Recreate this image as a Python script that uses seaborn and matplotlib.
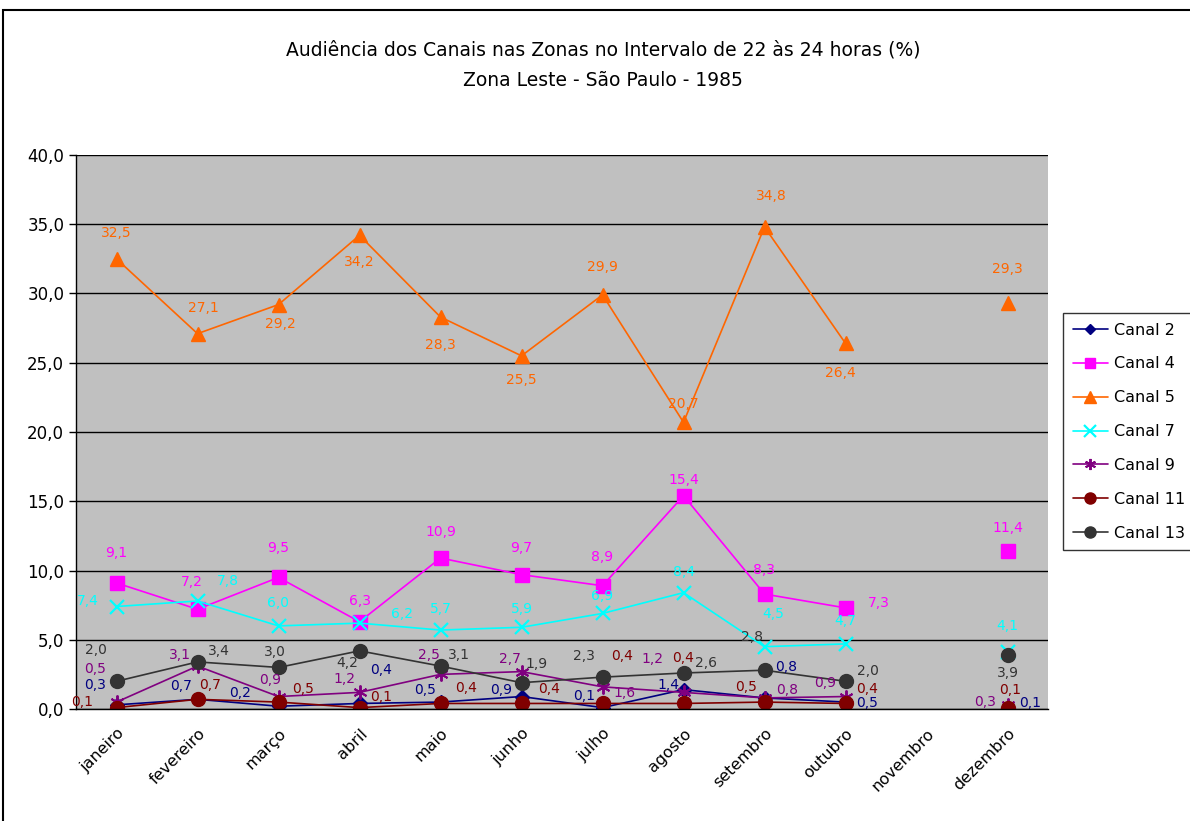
import numpy as np
import pandas as pd
import matplotlib
matplotlib.use("Agg")
import matplotlib.pyplot as plt
from matplotlib.lines import Line2D
from matplotlib.patches import Rectangle
from matplotlib.ticker import FuncFormatter, FixedLocator
import seaborn as sns

# ─────────────────────────────────────────────
# Data
# ─────────────────────────────────────────────
meses = ["janeiro", "fevereiro", "março", "abril", "maio", "junho",
         "julho", "agosto", "setembro", "outubro", "novembro", "dezembro"]

nan = np.nan
canal_2  = [0.3, 0.7, 0.2, 0.4, 0.5, 0.9, 0.1, 1.4, 0.8, 0.5, nan, 0.1]
canal_4  = [9.1, 7.2, 9.5, 6.3, 10.9, 9.7, 8.9, 15.4, 8.3, 7.3, nan, 11.4]
canal_5  = [32.5, 27.1, 29.2, 34.2, 28.3, 25.5, 29.9, 20.7, 34.8, 26.4, nan, 29.3]
canal_7  = [7.4, 7.8, 6.0, 6.2, 5.7, 5.9, 6.9, 8.4, 4.5, 4.7, nan, 4.1]
canal_9  = [0.5, 3.1, 0.9, 1.2, 2.5, 2.7, 1.6, 1.2, 0.8, 0.9, nan, 0.3]
canal_11 = [0.1, 0.7, 0.5, 0.1, 0.4, 0.4, 0.4, 0.4, 0.5, 0.4, nan, 0.1]
canal_13 = [2.0, 3.4, 3.0, 4.2, 3.1, 1.9, 2.3, 2.6, 2.8, 2.0, nan, 3.9]

series = {
    "Canal 2": canal_2, "Canal 4": canal_4, "Canal 5": canal_5,
    "Canal 7": canal_7, "Canal 9": canal_9, "Canal 11": canal_11,
    "Canal 13": canal_13,
}

# ─────────────────────────────────────────────
# Styles
# ─────────────────────────────────────────────
asterisk = (6, 2, 0)
estilos = {
    "Canal 2":  dict(color="#000080", marker="D", ms=7,   mew=1.0),
    "Canal 4":  dict(color="#FF00FF", marker="s", ms=9.5, mew=1.0),
    "Canal 5":  dict(color="#FF6600", marker="^", ms=10,  mew=1.0),
    "Canal 7":  dict(color="#00FFFF", marker="x", ms=10,  mew=1.6),
    "Canal 9":  dict(color="#800080", marker=asterisk, ms=10, mew=1.4),
    "Canal 11": dict(color="#800000", marker="o", ms=10,  mew=1.0),
    "Canal 13": dict(color="#333333", marker="o", ms=10,  mew=1.0),
}

# label offsets in pixels (dx, dy with dy downward), per month
offsets = {
    "Canal 2":  [(-21, -20), (-16, -13), (-38, -13), (22, -33), (-15, -12), (-20, -7),
                 (-18, -12), (-15, -5), (22, -31), (22, 1), None, (23, -5)],
    "Canal 4":  [(0, -30), (-6, -27), (0, -29), (0, -21), (0, -26), (0, -27),
                 (0, -29), (0, -16), (0, -24), (33, -5), None, (0, -23)],
    "Canal 5":  [(0, -26), (6, -26), (2, 19), (0, 27), (0, 28), (0, 24),
                 (0, -28), (0, -18), (7, -31), (-5, 30), None, (0, -34)],
    "Canal 7":  [(-29, -6), (30, -20), (0, -23), (42, -9), (0, -21), (0, -18),
                 (0, -17), (0, -21), (9, -33), (0, -23), None, (0, -26)],
    "Canal 9":  [(-21, -33), (-18, -11), (-8, -17), (-15, -13), (-12, -19), (-12, -13),
                 (22, 6), (-31, -33), (23, -8), (-20, -14), None, (-22, -3)],
    "Canal 11": [(-34, -6), (13, -14), (25, -13), (22, -11), (26, -15), (28, -14),
                 (20, -47), (0, -45), (-18, -15), (22, -14), None, (3, -18)],
    "Canal 13": [(-21, -31), (21, -11), (-4, -15), (-12, 12), (18, -11), (15, -19),
                 (-19, -21), (23, -10), (-12, -33), (22, -10), None, (0, 18)],
}

# long table: one row per point, 'seg' splits the line at the missing month
rows = []
for canal, vals in series.items():
    seg = 0
    for i, v in enumerate(vals):
        if np.isnan(v):
            seg += 1
            continue
        rows.append({"canal": canal, "pos": i, "valor": v, "seg": seg})
df = pd.DataFrame(rows)

# ─────────────────────────────────────────────
# Plot
# ─────────────────────────────────────────────
sns.set_style("white")
plt.rcParams["font.family"] = ["DejaVu Sans"]
plt.rcParams["text.color"] = "black"
plt.rcParams["xtick.color"] = "black"
plt.rcParams["ytick.color"] = "black"
plt.rcParams["axes.labelcolor"] = "black"

fig = plt.figure(figsize=(11.9, 8.21), dpi=100)
ax = fig.add_axes([76 / 1190, 1 - 709 / 821, (1048 - 76) / 1190, (709 - 155) / 821])
ax.set_facecolor("#C0C0C0")

for canal in series:
    st = estilos[canal]
    sub = df[df["canal"] == canal]
    sns.lineplot(
        data=sub, x="pos", y="valor", units="seg", estimator=None,
        color=st["color"], marker=st["marker"], markersize=st["ms"],
        markeredgecolor=st["color"], markerfacecolor=st["color"],
        markeredgewidth=st["mew"], linewidth=1.2, ax=ax, legend=False,
    )

# data labels
for canal, vals in series.items():
    cor = estilos[canal]["color"]
    for i, v in enumerate(vals):
        off = offsets[canal][i]
        if np.isnan(v) or off is None:
            continue
        ax.annotate(f"{v:.1f}".replace(".", ","), xy=(i, v),
                    xytext=(off[0], -off[1]), textcoords="offset pixels",
                    ha="center", va="center", fontsize=10, color=cor,
                    annotation_clip=False, zorder=5)

ax.set_xlim(-0.5, 11.5)
ax.set_ylim(0, 40)

ax.yaxis.set_major_locator(FixedLocator(np.arange(0, 41, 5)))
ax.yaxis.set_major_formatter(FuncFormatter(lambda y, p: f"{y:.1f}".replace(".", ",")))
ax.grid(axis="y", color="black", linewidth=1.0)
ax.set_axisbelow(True)

ax.set_xticks(range(len(meses)))
ax.set_xticklabels(meses, rotation=45, ha="right", rotation_mode="anchor", fontsize=11.5)
ax.set_xticks(np.arange(-0.5, 12, 1), minor=True)
ax.tick_params(axis="x", which="major", length=0, pad=12)
ax.tick_params(axis="x", which="minor", length=6, width=1, direction="out", color="black")
ax.tick_params(axis="y", length=5, width=1, direction="out", color="black", labelsize=12)
ax.tick_params(axis="y", left=True)

ax.set_xlabel("")
ax.set_ylabel("")
for s in ["top", "right"]:
    ax.spines[s].set_visible(False)
for s in ["left", "bottom"]:
    ax.spines[s].set_color("black")
    ax.spines[s].set_linewidth(1.0)

# titles
fig.text(603 / 1190, 1 - 50 / 821,
         "Audiência dos Canais nas Zonas no Intervalo de 22 às 24 horas (%)",
         ha="center", va="center", fontsize=13.5, color="black")
fig.text(603 / 1190, 1 - 80 / 821, "Zona Leste - São Paulo - 1985",
         ha="center", va="center", fontsize=13.5, color="black")

# legend
handles = []
for canal in series:
    st = estilos[canal]
    handles.append(Line2D([0], [0], color=st["color"], marker=st["marker"],
                          markersize=st["ms"] * 0.8, markeredgecolor=st["color"],
                          markerfacecolor=st["color"], markeredgewidth=st["mew"],
                          linewidth=1.2, label=canal))
leg = fig.legend(handles=handles, loc="upper left",
                 bbox_to_anchor=(1063 / 1190, 1 - 313 / 821),
                 frameon=True, fancybox=False, edgecolor="black",
                 fontsize=11.5, labelspacing=1.18, handlelength=2.2,
                 handletextpad=0.4, borderaxespad=0, borderpad=0.6)
leg.get_frame().set_linewidth(1.0)

# outer chart border
fig.patches.append(Rectangle((3 / 1190, -0.01), 1.0, 1 - 10 / 821 + 0.01,
                             transform=fig.transFigure, fill=False,
                             edgecolor="black", linewidth=1.5))

fig.savefig("out.png", dpi=100)
